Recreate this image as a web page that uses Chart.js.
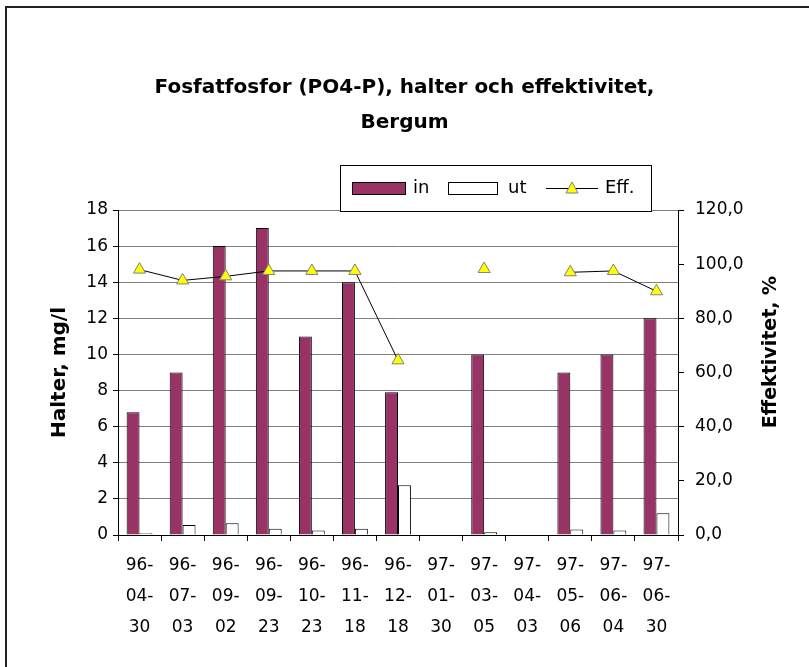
<!DOCTYPE html>
<html>
<head>
<meta charset="utf-8">
<script src="https://cdn.jsdelivr.net/npm/chart.js@4/dist/chart.umd.min.js"></script>
<style>
html,body{margin:0;padding:0;background:#fff;}
#wrap{position:relative;width:809px;height:667px;}
</style>
</head>
<body>
<div id="wrap"><canvas id="c" width="809" height="667"></canvas></div>
<script>
const categories = ["96-04-30","96-07-03","96-09-02","96-09-23","96-10-23","96-11-18","96-12-18","97-01-30","97-03-05","97-04-03","97-05-06","97-06-04","97-06-30"];
const inValues  = [6.8, 9, 16, 17, 11, 14, 7.9, null, 10, null, 9, 10, 12];
const utValues  = [0.1, 0.55, 0.65, 0.35, 0.25, 0.35, 2.75, null, 0.15, null, 0.3, 0.25, 1.2];
const effValues = [98, 94, 95.5, 97.5, 97.5, 97.5, 64.5, null, 98.2, null, 97, 97.5, 90];
const titleLines = ["Fosfatfosfor (PO4-P), halter och effektivitet,", "Bergum"];
const seriesNames = ["in", "ut", "Eff."];
const leftAxisTitle = "Halter, mg/l";
const rightAxisTitle = "Effektivitet, %";

const FONT = "'DejaVu Sans', sans-serif";
Chart.defaults.font.family = FONT;
Chart.defaults.color = '#000';

const IN_COLOR = '#993366';
const EFF_COLOR = '#FFFF00';

const decor = {
  id: 'decor',
  afterDraw(chart) {
    const ctx = chart.ctx;
    ctx.save();
    // outer frame
    ctx.strokeStyle = '#222';
    ctx.lineWidth = 2;
    ctx.strokeRect(6, 7, 820, 680);
    // right axis title, reading bottom-to-top
    ctx.fillStyle = '#000';
    ctx.font = 'bold 19px ' + FONT;
    ctx.textAlign = 'center';
    ctx.textBaseline = 'middle';
    ctx.translate(771, 352);
    ctx.rotate(-Math.PI / 2);
    ctx.fillText(rightAxisTitle, 0, 0);
    ctx.restore();

    // legend
    ctx.save();
    const lx = 340, ly = 165, lw = 311, lh = 46;
    ctx.fillStyle = '#fff';
    ctx.fillRect(lx, ly, lw, lh);
    ctx.strokeStyle = '#000';
    ctx.lineWidth = 1;
    ctx.strokeRect(lx + 0.5, ly + 0.5, lw, lh);
    const cy = 188;
    ctx.fillStyle = IN_COLOR;
    ctx.fillRect(352, 182, 53, 12);
    ctx.strokeStyle = '#000';
    ctx.strokeRect(352.5, 182.5, 53, 12);
    ctx.fillStyle = '#fff';
    ctx.fillRect(448, 182, 49, 12);
    ctx.strokeRect(448.5, 182.5, 49, 12);
    ctx.beginPath();
    ctx.moveTo(546, cy + 0.5);
    ctx.lineTo(598, cy + 0.5);
    ctx.stroke();
    ctx.beginPath();
    ctx.moveTo(572, cy - 6);
    ctx.lineTo(578, cy + 5);
    ctx.lineTo(566, cy + 5);
    ctx.closePath();
    ctx.fillStyle = EFF_COLOR;
    ctx.fill();
    ctx.strokeStyle = '#808080';
    ctx.stroke();
    ctx.fillStyle = '#000';
    ctx.font = '18px ' + FONT;
    ctx.textAlign = 'left';
    ctx.textBaseline = 'middle';
    ctx.fillText(seriesNames[0], 413, cy);
    ctx.fillText(seriesNames[1], 508, cy);
    ctx.fillText(seriesNames[2], 605, cy);
    ctx.restore();
  }
};

new Chart(document.getElementById('c'), {
  data: {
    labels: categories,
    datasets: [
      {
        type: 'line',
        label: seriesNames[2],
        data: effValues,
        yAxisID: 'y1',
        borderColor: '#000',
        borderWidth: 1,
        backgroundColor: EFF_COLOR,
        pointStyle: 'triangle',
        pointRadius: 7,
        pointBorderColor: '#808080',
        pointBorderWidth: 1,
        pointBackgroundColor: EFF_COLOR,
        spanGaps: false,
        tension: 0,
        order: 0
      },
      {
        type: 'bar',
        label: seriesNames[0],
        data: inValues,
        yAxisID: 'y',
        backgroundColor: IN_COLOR,
        borderColor: '#000',
        borderWidth: 1,
        categoryPercentage: 0.6,
        barPercentage: 1,
        order: 1
      },
      {
        type: 'bar',
        label: seriesNames[1],
        data: utValues,
        yAxisID: 'y',
        backgroundColor: '#fff',
        borderColor: '#000',
        borderWidth: 1,
        categoryPercentage: 0.6,
        barPercentage: 1,
        order: 1
      }
    ]
  },
  options: {
    responsive: false,
    animation: false,
    layout: { padding: 0 },
    plugins: {
      legend: { display: false },
      tooltip: { enabled: false },
      title: {
        display: true,
        text: titleLines,
        color: '#000',
        font: { size: 20, weight: 'bold', family: FONT, lineHeight: 1.75 },
        padding: { top: 70, bottom: 70 }
      }
    },
    scales: {
      x: {
        grid: { offset: true, drawOnChartArea: false, color: '#000', tickLength: 6 },
        border: { color: '#000', width: 1 },
        ticks: {
          maxRotation: 0, minRotation: 0, autoSkip: false,
          padding: 9,
          font: { size: 17, lineHeight: 1.82 },
          callback: function(v) {
            const s = this.getLabelForValue(v);
            const p = s.split('-');
            return [p[0] + '-', p[1] + '-', p[2]];
          }
        },
        afterFit(s) { s.height = 132; }
      },
      y: {
        position: 'left',
        min: 0, max: 18,
        ticks: { stepSize: 2, padding: 5, font: { size: 17 } },
        grid: { color: '#808080', tickColor: '#000', tickLength: 5 },
        border: { color: '#000', width: 1 },
        title: {
          display: true, text: leftAxisTitle,
          font: { size: 20, weight: 'bold' },
          padding: { top: 48, bottom: 0 }
        },
        afterFit(s) { s.width = 118; }
      },
      y1: {
        position: 'right',
        min: 0, max: 120,
        ticks: {
          stepSize: 20, padding: 11, font: { size: 17 },
          callback: v => v.toFixed(1).replace('.', ',')
        },
        grid: { drawOnChartArea: false, color: '#000', tickLength: 6 },
        border: { color: '#000', width: 1 },
        afterFit(s) { s.width = 131; }
      }
    }
  },
  plugins: [decor]
});
</script>
</body>
</html>
